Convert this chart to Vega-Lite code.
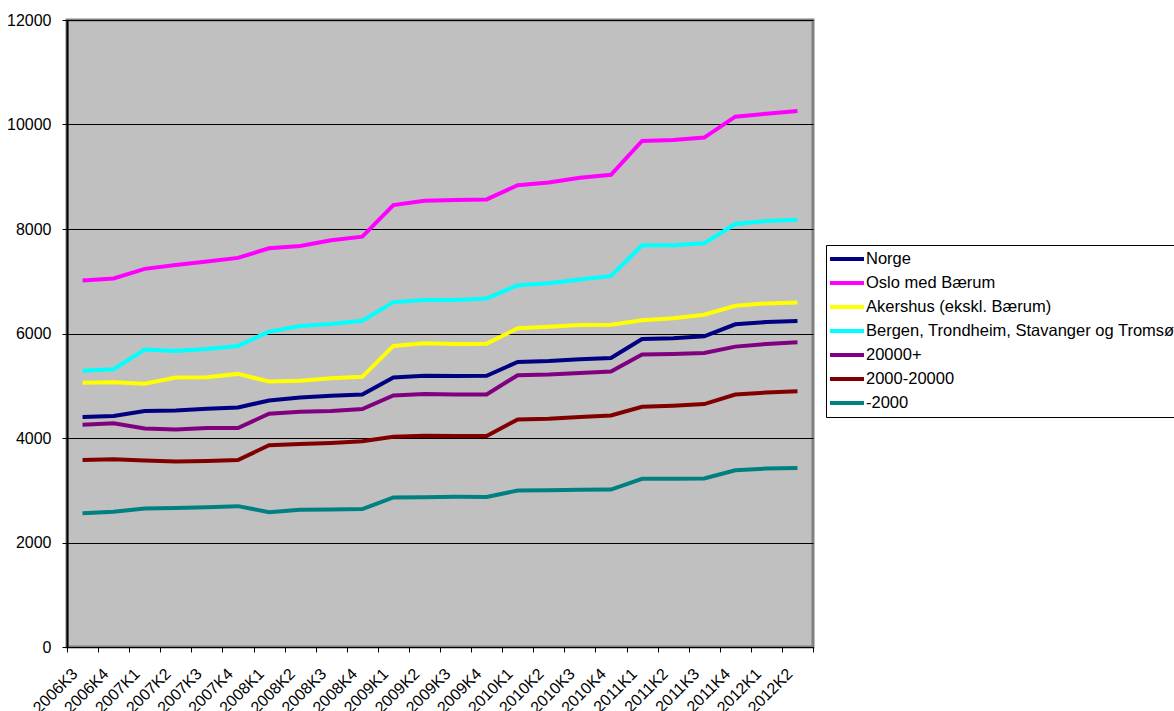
{
  "$schema": "https://vega.github.io/schema/vega-lite/v6.json",
  "autosize": {"type": "none"},
  "padding": {"left": 67, "top": 20, "right": 361, "bottom": 64},
  "width": 746,
  "height": 627,
  "background": "white",
  "config": {
    "font": "Liberation Sans",
    "view": {"fill": "#C0C0C0", "stroke": "#808080", "strokeWidth": 3}
  },
  "data": {
    "values": [
      {"q":"2006K3","s":"Norge","v":4400},{"q":"2006K4","s":"Norge","v":4420},{"q":"2007K1","s":"Norge","v":4515},{"q":"2007K2","s":"Norge","v":4527},{"q":"2007K3","s":"Norge","v":4560},{"q":"2007K4","s":"Norge","v":4585},{"q":"2008K1","s":"Norge","v":4718},{"q":"2008K2","s":"Norge","v":4775},{"q":"2008K3","s":"Norge","v":4808},{"q":"2008K4","s":"Norge","v":4832},{"q":"2009K1","s":"Norge","v":5157},{"q":"2009K2","s":"Norge","v":5189},{"q":"2009K3","s":"Norge","v":5185},{"q":"2009K4","s":"Norge","v":5189},{"q":"2010K1","s":"Norge","v":5456},{"q":"2010K2","s":"Norge","v":5475},{"q":"2010K3","s":"Norge","v":5508},{"q":"2010K4","s":"Norge","v":5533},{"q":"2011K1","s":"Norge","v":5895},{"q":"2011K2","s":"Norge","v":5908},{"q":"2011K3","s":"Norge","v":5947},{"q":"2011K4","s":"Norge","v":6176},{"q":"2012K1","s":"Norge","v":6219},{"q":"2012K2","s":"Norge","v":6239},
      {"q":"2006K3","s":"Oslo med Bærum","v":7015},{"q":"2006K4","s":"Oslo med Bærum","v":7053},{"q":"2007K1","s":"Oslo med Bærum","v":7237},{"q":"2007K2","s":"Oslo med Bærum","v":7313},{"q":"2007K3","s":"Oslo med Bærum","v":7377},{"q":"2007K4","s":"Oslo med Bærum","v":7447},{"q":"2008K1","s":"Oslo med Bærum","v":7631},{"q":"2008K2","s":"Oslo med Bærum","v":7676},{"q":"2008K3","s":"Oslo med Bærum","v":7784},{"q":"2008K4","s":"Oslo med Bærum","v":7854},{"q":"2009K1","s":"Oslo med Bærum","v":8458},{"q":"2009K2","s":"Oslo med Bærum","v":8541},{"q":"2009K3","s":"Oslo med Bærum","v":8555},{"q":"2009K4","s":"Oslo med Bærum","v":8566},{"q":"2010K1","s":"Oslo med Bærum","v":8839},{"q":"2010K2","s":"Oslo med Bærum","v":8890},{"q":"2010K3","s":"Oslo med Bærum","v":8980},{"q":"2010K4","s":"Oslo med Bærum","v":9037},{"q":"2011K1","s":"Oslo med Bærum","v":9685},{"q":"2011K2","s":"Oslo med Bærum","v":9705},{"q":"2011K3","s":"Oslo med Bærum","v":9749},{"q":"2011K4","s":"Oslo med Bærum","v":10150},{"q":"2012K1","s":"Oslo med Bærum","v":10207},{"q":"2012K2","s":"Oslo med Bærum","v":10258},
      {"q":"2006K3","s":"Akershus (ekskl. Bærum)","v":5056},{"q":"2006K4","s":"Akershus (ekskl. Bærum)","v":5069},{"q":"2007K1","s":"Akershus (ekskl. Bærum)","v":5037},{"q":"2007K2","s":"Akershus (ekskl. Bærum)","v":5157},{"q":"2007K3","s":"Akershus (ekskl. Bærum)","v":5164},{"q":"2007K4","s":"Akershus (ekskl. Bærum)","v":5227},{"q":"2008K1","s":"Akershus (ekskl. Bærum)","v":5081},{"q":"2008K2","s":"Akershus (ekskl. Bærum)","v":5094},{"q":"2008K3","s":"Akershus (ekskl. Bærum)","v":5145},{"q":"2008K4","s":"Akershus (ekskl. Bærum)","v":5170},{"q":"2009K1","s":"Akershus (ekskl. Bærum)","v":5762},{"q":"2009K2","s":"Akershus (ekskl. Bærum)","v":5813},{"q":"2009K3","s":"Akershus (ekskl. Bærum)","v":5800},{"q":"2009K4","s":"Akershus (ekskl. Bærum)","v":5806},{"q":"2010K1","s":"Akershus (ekskl. Bærum)","v":6099},{"q":"2010K2","s":"Akershus (ekskl. Bærum)","v":6130},{"q":"2010K3","s":"Akershus (ekskl. Bærum)","v":6162},{"q":"2010K4","s":"Akershus (ekskl. Bærum)","v":6168},{"q":"2011K1","s":"Akershus (ekskl. Bærum)","v":6252},{"q":"2011K2","s":"Akershus (ekskl. Bærum)","v":6290},{"q":"2011K3","s":"Akershus (ekskl. Bærum)","v":6359},{"q":"2011K4","s":"Akershus (ekskl. Bærum)","v":6531},{"q":"2012K1","s":"Akershus (ekskl. Bærum)","v":6576},{"q":"2012K2","s":"Akershus (ekskl. Bærum)","v":6595},
      {"q":"2006K3","s":"Bergen, Trondheim, Stavanger og Tromsø","v":5285},{"q":"2006K4","s":"Bergen, Trondheim, Stavanger og Tromsø","v":5317},{"q":"2007K1","s":"Bergen, Trondheim, Stavanger og Tromsø","v":5692},{"q":"2007K2","s":"Bergen, Trondheim, Stavanger og Tromsø","v":5666},{"q":"2007K3","s":"Bergen, Trondheim, Stavanger og Tromsø","v":5704},{"q":"2007K4","s":"Bergen, Trondheim, Stavanger og Tromsø","v":5762},{"q":"2008K1","s":"Bergen, Trondheim, Stavanger og Tromsø","v":6035},{"q":"2008K2","s":"Bergen, Trondheim, Stavanger og Tromsø","v":6143},{"q":"2008K3","s":"Bergen, Trondheim, Stavanger og Tromsø","v":6181},{"q":"2008K4","s":"Bergen, Trondheim, Stavanger og Tromsø","v":6245},{"q":"2009K1","s":"Bergen, Trondheim, Stavanger og Tromsø","v":6601},{"q":"2009K2","s":"Bergen, Trondheim, Stavanger og Tromsø","v":6639},{"q":"2009K3","s":"Bergen, Trondheim, Stavanger og Tromsø","v":6639},{"q":"2009K4","s":"Bergen, Trondheim, Stavanger og Tromsø","v":6671},{"q":"2010K1","s":"Bergen, Trondheim, Stavanger og Tromsø","v":6925},{"q":"2010K2","s":"Bergen, Trondheim, Stavanger og Tromsø","v":6963},{"q":"2010K3","s":"Bergen, Trondheim, Stavanger og Tromsø","v":7033},{"q":"2010K4","s":"Bergen, Trondheim, Stavanger og Tromsø","v":7103},{"q":"2011K1","s":"Bergen, Trondheim, Stavanger og Tromsø","v":7688},{"q":"2011K2","s":"Bergen, Trondheim, Stavanger og Tromsø","v":7688},{"q":"2011K3","s":"Bergen, Trondheim, Stavanger og Tromsø","v":7727},{"q":"2011K4","s":"Bergen, Trondheim, Stavanger og Tromsø","v":8096},{"q":"2012K1","s":"Bergen, Trondheim, Stavanger og Tromsø","v":8152},{"q":"2012K2","s":"Bergen, Trondheim, Stavanger og Tromsø","v":8178},
      {"q":"2006K3","s":"20000+","v":4254},{"q":"2006K4","s":"20000+","v":4280},{"q":"2007K1","s":"20000+","v":4184},{"q":"2007K2","s":"20000+","v":4165},{"q":"2007K3","s":"20000+","v":4191},{"q":"2007K4","s":"20000+","v":4191},{"q":"2008K1","s":"20000+","v":4464},{"q":"2008K2","s":"20000+","v":4502},{"q":"2008K3","s":"20000+","v":4516},{"q":"2008K4","s":"20000+","v":4553},{"q":"2009K1","s":"20000+","v":4814},{"q":"2009K2","s":"20000+","v":4840},{"q":"2009K3","s":"20000+","v":4834},{"q":"2009K4","s":"20000+","v":4834},{"q":"2010K1","s":"20000+","v":5202},{"q":"2010K2","s":"20000+","v":5214},{"q":"2010K3","s":"20000+","v":5246},{"q":"2010K4","s":"20000+","v":5272},{"q":"2011K1","s":"20000+","v":5596},{"q":"2011K2","s":"20000+","v":5609},{"q":"2011K3","s":"20000+","v":5628},{"q":"2011K4","s":"20000+","v":5749},{"q":"2012K1","s":"20000+","v":5800},{"q":"2012K2","s":"20000+","v":5832},
      {"q":"2006K3","s":"2000-20000","v":3580},{"q":"2006K4","s":"2000-20000","v":3593},{"q":"2007K1","s":"2000-20000","v":3568},{"q":"2007K2","s":"2000-20000","v":3549},{"q":"2007K3","s":"2000-20000","v":3561},{"q":"2007K4","s":"2000-20000","v":3580},{"q":"2008K1","s":"2000-20000","v":3860},{"q":"2008K2","s":"2000-20000","v":3886},{"q":"2008K3","s":"2000-20000","v":3905},{"q":"2008K4","s":"2000-20000","v":3936},{"q":"2009K1","s":"2000-20000","v":4025},{"q":"2009K2","s":"2000-20000","v":4045},{"q":"2009K3","s":"2000-20000","v":4038},{"q":"2009K4","s":"2000-20000","v":4038},{"q":"2010K1","s":"2000-20000","v":4356},{"q":"2010K2","s":"2000-20000","v":4369},{"q":"2010K3","s":"2000-20000","v":4401},{"q":"2010K4","s":"2000-20000","v":4432},{"q":"2011K1","s":"2000-20000","v":4598},{"q":"2011K2","s":"2000-20000","v":4617},{"q":"2011K3","s":"2000-20000","v":4649},{"q":"2011K4","s":"2000-20000","v":4832},{"q":"2012K1","s":"2000-20000","v":4871},{"q":"2012K2","s":"2000-20000","v":4897},
      {"q":"2006K3","s":"-2000","v":2562},{"q":"2006K4","s":"-2000","v":2589},{"q":"2007K1","s":"-2000","v":2652},{"q":"2007K2","s":"-2000","v":2658},{"q":"2007K3","s":"-2000","v":2677},{"q":"2007K4","s":"-2000","v":2696},{"q":"2008K1","s":"-2000","v":2581},{"q":"2008K2","s":"-2000","v":2627},{"q":"2008K3","s":"-2000","v":2633},{"q":"2008K4","s":"-2000","v":2639},{"q":"2009K1","s":"-2000","v":2862},{"q":"2009K2","s":"-2000","v":2868},{"q":"2009K3","s":"-2000","v":2875},{"q":"2009K4","s":"-2000","v":2872},{"q":"2010K1","s":"-2000","v":2995},{"q":"2010K2","s":"-2000","v":3002},{"q":"2010K3","s":"-2000","v":3009},{"q":"2010K4","s":"-2000","v":3014},{"q":"2011K1","s":"-2000","v":3218},{"q":"2011K2","s":"-2000","v":3218},{"q":"2011K3","s":"-2000","v":3224},{"q":"2011K4","s":"-2000","v":3383},{"q":"2012K1","s":"-2000","v":3415},{"q":"2012K2","s":"-2000","v":3428}
    ]
  },
  "mark": {"type": "line", "strokeWidth": 4, "strokeJoin": "miter", "strokeCap": "butt"},
  "encoding": {
    "x": {
      "field": "q", "type": "ordinal", "sort": null,
      "scale": {"type": "band", "paddingInner": 0, "paddingOuter": 0},
      "axis": {
        "title": null, "tickBand": "extent", "grid": false,
        "domainColor": "black", "domainWidth": 1, "tickColor": "black", "tickSize": 5,
        "labelAngle": -45, "labelAlign": "right", "labelBaseline": "middle",
        "labelPadding": 19, "labelOffset": -8, "labelFontSize": 16, "labelColor": "black", "labelFont": "Liberation Sans",
        "labelOverlap": false
      }
    },
    "y": {
      "field": "v", "type": "quantitative",
      "scale": {"domain": [0, 12000], "nice": false, "zero": true},
      "axis": {
        "title": null, "values": [0, 2000, 4000, 6000, 8000, 10000, 12000], "format": "d",
        "grid": true, "gridColor": "black", "gridWidth": 1, "gridOpacity": 1,
        "domainColor": "black", "domainWidth": 2, "tickColor": "black", "tickSize": 5,
        "labelPadding": 11, "labelFontSize": 16, "labelColor": "black", "labelFont": "Liberation Sans"
      }
    },
    "color": {
      "field": "s", "type": "nominal",
      "scale": {
        "domain": ["Norge", "Oslo med Bærum", "Akershus (ekskl. Bærum)", "Bergen, Trondheim, Stavanger og Tromsø", "20000+", "2000-20000", "-2000"],
        "range": ["#000080", "#FF00FF", "#FFFF00", "#00FFFF", "#800080", "#800000", "#008080"]
      },
      "legend": {
        "title": null, "orient": "none", "legendX": 759, "legendY": 225,
        "strokeColor": "black", "fillColor": "white", "padding": 5,
        "symbolType": "M-1.43,0H3.43", "symbolSize": 196, "symbolStrokeWidth": 4,
        "labelFontSize": 16.5, "labelFont": "Liberation Sans", "labelColor": "black",
        "labelOffset": 17, "rowPadding": 6, "labelLimit": 1000
      }
    }
  }
}
